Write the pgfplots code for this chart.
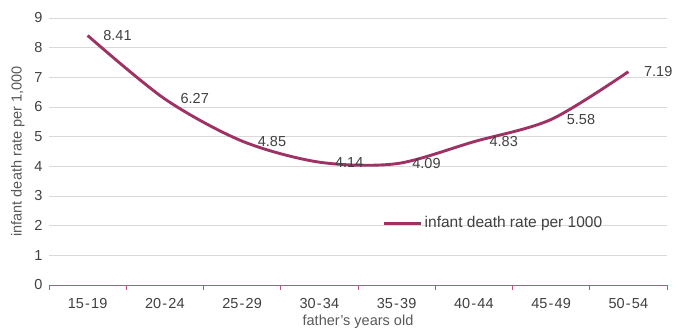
\documentclass[border=0pt]{standalone}
\usepackage{pgfplots}
\pgfplotsset{compat=1.18}
\usepackage{fontspec}
\setmainfont{Liberation Sans}
\definecolor{linec}{RGB}{158,50,100}
\definecolor{axc}{RGB}{190,80,130}
\definecolor{txt}{RGB}{64,64,64}
\definecolor{ttl}{RGB}{89,89,89}
\definecolor{gridc}{RGB}{217,217,217}
\newcommand{\dsh}{\kern1.2bp-\kern1.2bp}
\begin{document}
\begin{tikzpicture}
\useasboundingbox (-49bp,-51bp) rectangle (638bp,285bp);
\begin{axis}[
  at={(0,0)}, anchor=south west,
  scale only axis, width=618bp, height=267bp,
  xmin=-0.5, xmax=7.5, ymin=0, ymax=9,
  axis x line=bottom, axis y line=left,
  x axis line style={draw=axc, line width=0.8pt, -},
  y axis line style={draw=none},
  xtick={0,...,7},
  xticklabels={15\dsh19,20\dsh24,25\dsh29,30\dsh34,35\dsh39,40\dsh44,45\dsh49,50\dsh54},
  minor xtick={-0.5,0.5,...,7.5},
  ytick={0,...,9},
  major tick length=0pt,
  minor tick length=5bp,
  tick align=outside,
  minor tick style={draw=axc, line width=0.8pt},
  ymajorgrids, grid style={draw=gridc, line width=0.8pt},
  xminorgrids=false,
  tick label style={font=\fontsize{14.5bp}{16bp}\selectfont, text=txt},
  xticklabel style={yshift=-10bp},
  yticklabel style={xshift=-3bp},
  /pgf/number format/assume math mode=true,
  xlabel={father’s years old},
  ylabel={infant death rate per 1,000},
  label style={font=\fontsize{14.5bp}{16bp}\selectfont, text=ttl},
  xlabel style={yshift=1bp},
  ylabel style={yshift=3bp},
  legend style={at={(0.535,0.232)}, anchor=west, draw=none, fill=none,
    font=\fontsize{15.5bp}{17bp}\selectfont, text=txt},
  legend image code/.code={\draw[#1] (0bp,0bp) -- (37bp,0bp);},
  nodes near coords,
  every node near coord/.append style={anchor=west, xshift=11bp,
    font=\fontsize{14.5bp}{16bp}\selectfont, text=txt},
  point meta=explicit symbolic,
]
\addplot[color=linec, line width=2.9pt, smooth, tension=0.5, mark=none]
  coordinates {(0,8.41)[8.41] (1,6.27)[6.27] (2,4.85)[4.85] (3,4.14)[4.14]
               (4,4.09)[4.09] (5,4.83)[4.83] (6,5.58)[5.58] (7,7.19)[7.19]};
\addlegendentry{infant death rate per 1000}
\end{axis}
\end{tikzpicture}
\end{document}
